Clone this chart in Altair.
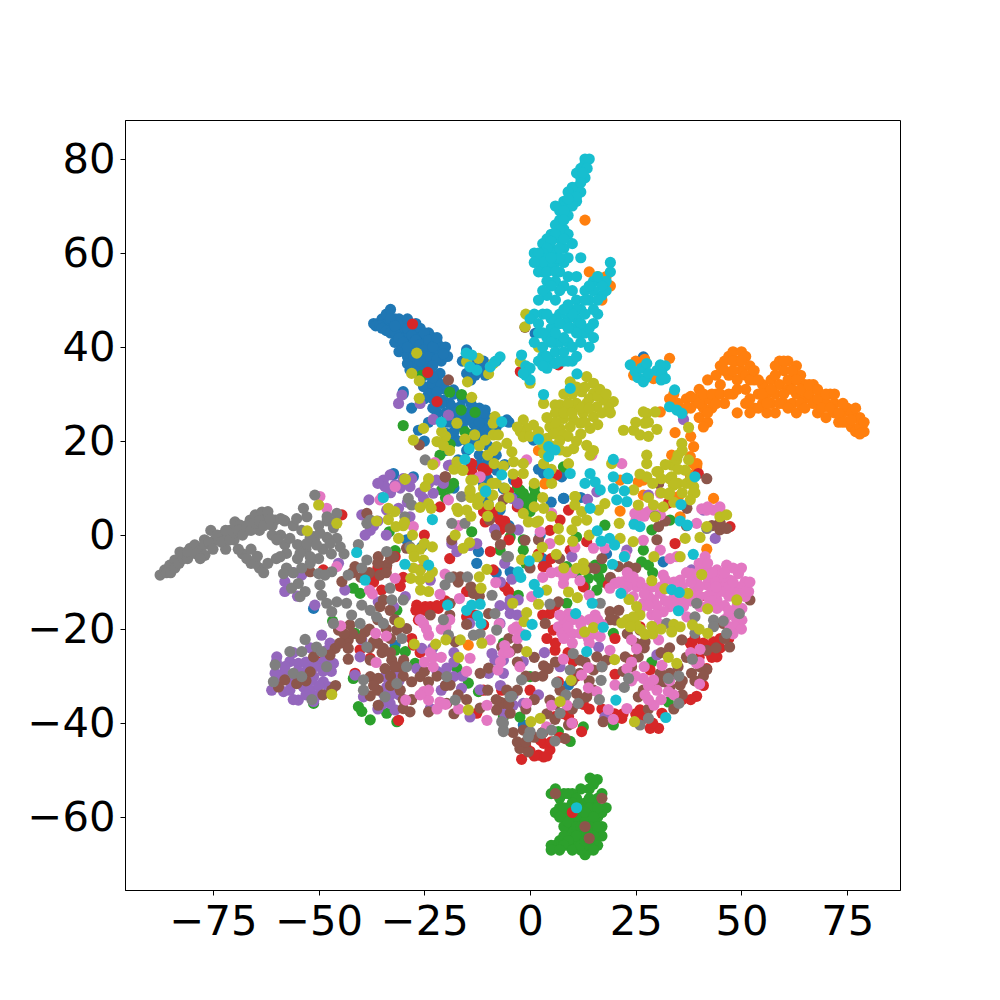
import altair as alt
import pandas as pd

C0 = [(-37,45),(-36,45),(-35,46),(-34,45),(-34,47),(-33,48),(-33,44),(-32,46),(-31,44),(-31,46),(-30,45),(-30,43),(-29,46),(-29,42),(-28,44),(-28,41),(-27,43),(-27,40),(-26,44),(-26,42),(-26,39),(-25,41),(-25,38),(-24,43),(-24,40),(-23,42),(-23,38),(-22,41),(-22,39),(-21,40),(-20,40),(-21,37),(-19.5,38),(-32,41),(-31,39),(-30,40),(-29,38),(-28,37),(-27,36),(-26,35),(-30,42),(-28,39),(-25,36),(-24,35),
(-26,33),(-24,31),(-23,29),(-22,33),(-20,31),(-19,28),(-18,30),(-17,27),(-16,29),(-15,26),(-14,28),(-13,24),(-12,27),(-11,23),(-10,25),(-9,22),(-7,24),(-5,24),(-22,26),(-20,24),(-18,22),(-16,23),(-15,20),(-13,20),(-12,17),(-20,18),(-17,16),(-14,15),(-11,14),(-10,19),(-8,17),(-6,15),(-15,39),(-14,37),(-12,36),(-10,35),(-8,37),(-13,34),(-16,37),(-25,20),(-24,24),(-28,27),(-30,30),(-5,2),(3,-5),(5,7),(12,8),(-8,-8),(-3,8),(2,14),(-18,10),(-10,7),
(8,7.8),(3.2,13.1),(7.5,12.4),(-3.9,11.7),(-6.3,10),(2.4,0),(-4.7,-7.8),(31.5,-5.7),(18.1,-4),(9.1,-31.9),(-1.6,-40.4),(-51.2,-15.6),(-32.3,13.1),(-12.6,-6),(-12.2,-3.5),(-27.6,12.4),(-10.2,15.2),(-7.1,5.3),(-7.9,13.8),(-29.2,-1),(-25.6,-2.5),(-31.9,-23.4),
(-18.1,30.9),(-20.5,28.7),(-18.5,27.3),(-16.5,27.3),(-15,24.5),(-11.8,25.9),(-10.6,26.6),(-13.4,23.8),(-11,22.3),(-5.5,24.5),(-19.7,21.6),(-18.1,20.9),(-23.6,34.8),(-21.3,34.4),(-25.2,31.6),(-23.2,32.3),(-24,36.5),(-10.2,16.7),(-9.4,14.5),(-6.3,9.9),(-28.4,35.1),(-30,30.5),(-26.4,22.3),(7.9,7.8),(.8,20.2),(3.6,13.1),(-15,34.4),(-10.6,34),(-15,39.4),(26.8,37.9),(3,37.2),(1.2,42.9),(-32.3,12.8),
(-36.5,44.5),(-35.5,44.5),(-35,44),(-34,43.5),(-33,43),(-33,46),(-32,43),(-32,44.5),(-31,42),(-30,41),(-29,40),(-29,44),(-28,42.5),(-27,41.5),(-27,45),(-26,40.5),(-25,39.5),(-25,43),(-24,38),(-24,41.5),(-23,40),(-22,37.5),(-22,42),(-20.5,38.5),(-29,36.5),(-27.5,38),(-26,37),(-23,36),(-25,34),(-23,33.5),(-21,32),(-24,30),(-22,30.5),(-25,29),(-23,27),(-21,28),(-20,26),(-19,24),(-18,26),(-17,24),(-17,20),(-16,25),(-14,25),(-13,27),(-12,24),(-11,26),(-9,24),(-8,23),(-11,21),(-13,22),(-15,18),(-12,15),(-10,12),(-11,11),(-12,35),(-13,36.5),(-14,33),(-11,37)]

C1 = [(36,26),(37,29),(38,27),(39,29),(40,25),(40,31),(41,27),(42,33),(42,29),(43,27),(44,34),(44,30),(45,36),(45,32),(46,28),(47,38),(47,34),(48,39),(48,30),(49,37),(49,33),(50,39),(50,35),(51,38),(51,31),(52,36),(52,29),(53,33),(53,27),(54,30),(55,28),(55,32),(56,26),(56,30),(57,33),(57,28),(58,36),(58,30),(58,26),(59,37),(59,32),(60,28),(60,35),(61,37),(61,31),(62,33),(62,28),(63,36),(63,30),(63,26),(64,34),(65,29),(65,32),(66,30),(67,28),(67,32),(68,26),(69,29),(70,25),(70,28),(71,30),(72,28),(72,26),(73,24),(74,26),(75,27),(75,24),(76,23),(77,25),(77,22),(78,23),(79,22),(78,25),(76,26),(35,28),(34,30),(33,29),(13,67),(14,56),(18,55),(19,53),(17,50),(25,37),(42,24),(41,23),(38,21),
(33,37.6),(27.1,37.4),(24.5,34),(29.2,33.3),(34.3,21.8),(30.8,26.2),(2,18),(3.6,11),(33.5,17),(38.7,18.8),(37.9,16.7),(26.8,11.7),(21.3,11.7),(39.5,15.2),
(3.5,10.9),(43.4,7.8),(21.3,5.1),(25.6,11.3),(26.8,8.5),(37.9,12.8),(35.1,8.2),(35.5,3.9),(41.8,-3),(39.4,14.5),(38.6,15.2),(-11,-19.1),(-14.6,-23.4),
(37,27),(38,29.5),(40,28),(41,30),(42,26),(43,30),(44,28),(45,30),(46,35),(46,37),(47,30),(48,35),(48,37),(49,31),(50,37),(51,34),(52,33),(53,35),(54,27),(54,33),(55,30),(56,28),(57,31),(58,34),(59,28),(60,30),(60,37),(61,33),(61,27),(62,35),(62,31),(63,33),(64,28),(64,31),(65,27),(66,32),(68,29),(68,31),(69,27),(70,30),(71,27),(72,30),(73,26),(74,28),(74,24),(76,24.5),(77,27),(78,21.5),(79,24),(51,28),(52,26),(49,26)]

C2 = [(14.2,-51.7),(15.9,-52),(15,-53),(14,-54),(12,-54),(10,-55),(6,-54),(7,-56),(8,-55),(5,-55),(16,-56),(17,-55),(15,-57),(13,-57),(11,-58),(9,-58),(7,-58),(6,-59),(8,-60),(10,-61),(12,-60),(14,-60),(16,-60),(17,-59),(18,-58),(17,-62),(15,-62),(13,-63),(11,-63),(9,-63),(8,-62),(10,-65),(12,-65),(14,-65),(16,-64),(16,-66),(14,-67),(13,-68),(11,-66),(9,-66),(7,-65),(6,-66),(5,-66),(5,-67),(13,-66),(15,-65),(12,-67),(17,-64),(11,-60),(13,-61),(15,-58),(8,-64),(10,-59),(14,-56),
(9,-55),(11,-56),(12,-58),(14,-58),(16,-58),(10,-57),(8,-58),(7,-60),(9,-61),(11,-62),(13,-59),(15,-60),(12,-62),(14,-62),(16,-62),(15,-64),(13,-64),(11,-64),(9,-65),(8,-66),(10,-67),(12,-66),(14,-66),(15,-67),(7,-67),(13,-65),
(-1,8),(-2.4,9.6),(1.2,8.7),(-.8,6.7),(-1.6,8.9),(.4,7.5),(-1.6,-1),(-1.6,-3.2),(-4.7,-.4),(11,-.4),(17.7,2.1),(33.1,3.2),(28.8,1.1),(26.8,-3.2),(26.4,-5.7),(28,-6.4),(16.2,-8.9),(15.4,-6.4),(13.8,-9.2),(15.8,-11.7),(8.7,-14.5),(8.7,-6.7),(19.7,-20.9),(28.8,-27),(32.7,-35.5),(19.7,-40.4),(9.5,-43.9),(12.6,-40.8),(6.7,-41.8),(0,-30.1),(-2.4,-38.7),(-6.3,-38.7),(-2.8,-12.8),
(-18.1,11),(-20.9,9.6),(-33.3,.7),(-13.8,.7),(-7.1,-3.2),(-31.9,-3.3),(-41.8,-11.3),(-40.2,-12.4),(-31.5,-16),(-46.7,-18.3),(-41.4,-20.9),(-31.9,-24.5),(-29.5,-24.8),(-27.2,-27.3),(-41.8,-30.5),(-40.6,-36.5),(-39.8,-37.5),(-37.8,-39.3),(-33.9,-37.9),(-31.5,-39.7),(-17.3,-28.3),(-14.6,-31.5),(-12.2,-33.3),(-6.3,-23),(-51.2,-35.8),
(-30,23.3),(-19,30.4),(-16.2,29.9),(-16.3,26.6),(-13,26.1),(-18.9,19.3),(-15.4,22),(-25.6,34),(-21.3,17),(7.9,14.5),
(-1,-6),(11,-8),(13,-11),(17,-10),(17,-7),(29,-8),(-20,8),(-19,10),(-3,10),(-3,7),(0,5),(1,10)]

C3 = [(-3.2,11.3),(-5.1,9.2),(-7.1,1.1),(9.1,5.3),(7.1,3.2),(4.7,1),(13.4,-1.4),(3.9,-6.7),(18.5,-10.6),(20.1,-22),(32.7,6.8),(47.3,1.8),(40.2,-13.1),(34.3,-1.8),(44.2,-25.9),(43.4,-22.7),(45,-24),(42.2,-24.8),(37.9,-23),(39.4,-34.3),(41.8,-28.4),(28.4,-28.7),(23.7,-26.6),(20.1,-29.6),(26,-37.2),(21.7,-39),(28.4,-41.1),(30.4,-41.1),(12.6,-36),(12.2,-41.8),(9.1,-38.6),(3.2,-44.3),(4.7,-45.7),(2,-46.8),(3.2,-47.2),(-2,-47.7),(2.4,-43.6),(5.9,-38.6),(0,-33),(-6.7,-33),(6.7,-31.2),(10.2,-26.9),(5.9,-24.5),(4.7,-16.7),(5.5,-20.2),(-5.1,-12),(3.1,-6.7),(9.5,-3.2),(26,-19.5),(12.6,-11),(38.3,-23.4),(31.2,-37.9),
(-21.3,6),(-10.2,13.8),(-10.6,2.8),(-7.1,3.2),(-8.7,3.9),(-5.5,1.8),(-9.4,-3.5),(-24.8,-15.2),(-23.6,-15.2),(-21.7,-15.6),(-26.8,-14.9),(-26.4,-18.1),(-30.7,-10.9),(-35.1,-11.7),(-35.9,-8.5),(-31.9,-4.6),(-40.2,-24.4),(-41.4,-29.4),(-31.1,-39.4),(-44.5,4.3),(-27.6,-23.4),(-11,-19.1),(-15,-17.4),(-11,-33),(-12.6,-37.9),(-49.7,-27),(-48.9,-7.4),(-37.8,-26.2),(-8.7,-7.4),(-26,-7.4),
(-27.8,44.9),(-24.2,34.6),(-22,28.4),(-13.8,15.2),(-11.2,14.2),(-3.1,11.2),(6.7,36.2),(-2.3,34.8),(6.3,12.8),(39.8,13.1),(-13.8,13.5),(10,-59),
(0,-46),(1,-47),(4,-47),(5,-44),(7,-43),(3,-42),(-1,-45),(43,-24),(45,-22),(47,-22),(43,-26),(41,-23),(39,-22),(40,-26),(38,-35),(36,-35),(41,-32),(27,-39),(25,-38),(29,-40),(22,-38),(20,-38),(17,-37),(14,-37),(10,-40),(8,-38),(11,-30),(9,-25),(6,-23),(4,-22),(3,-17),(6,-15),(2,-4),(5,-5),(-6,3),(-8,1),(-9,5),(-11,5),(-5,-1),(-3,6),(-22,-15),(-25,-16),(-27,-16),(-20,-14),(-19,-5),(-15,-12),(-13,-17),(-6,-11),(-30,-9),(-36,-7),(-34,-7),(-37,-10),(-28,-22),(-26,-25),(-25,0)]

C4 = [(-49.3,-21.3),(-52,-24),(-47.3,-23),(-52.8,-27.3),(-59.9,-25.9),(-56.8,-26.9),(-54.8,-27.3),(-50,-27.3),(-46.5,-27.3),(-58.3,-29.4),(-53.6,-32.3),(-52,-33),(-56.8,-33),(-54.8,-35.1),(-51.2,-35.4),(-48.9,-31.2),(-47.7,-32.3),(-61.1,-33),(-58.3,-33.3),(-51.2,-30.1),(-48.5,-26.6),(-60.3,-29.4),(-55,-30),(-57,-31),(-50,-32),(-53,-29),
(-34.7,11.7),(-34.3,10.3),(-33.1,12.8),(-30.7,10),(-28.4,10.3),(-31.1,5.7),(-39.8,4.3),(-37.8,1),(-38.1,7.5),(-28.4,3.9),(-22.1,11.7),(-20.5,11),(-18.9,14.9),(-22.9,8.9),(-25.2,7.8),(-33.9,5.3),(-31.9,10.7),(-32.3,-15.2),(-29.5,-13.1),(-35.9,-14.2),(-43.8,-11.7),(-50.9,-14.9),(-45.3,-6),(-54,-8.5),(-58,-9.9),(-57,-11.3),(-33.9,-32.3),(-33.1,-30.1),(-34.3,-30.1),(-32.3,-33),(-33.1,-35.8),(-31.9,-37.2),(-34.7,-33.7),(-39.4,-34.4),(-39.8,-22.3),(-41.4,-29.8),(-40.2,-25.9),(-26.8,-28.4),(-22.9,-25.9),(-23.6,-36.9),(-21.3,-29.4),(-19.7,-28.3),(-18.1,-30.1),(-16.2,-32.6),(-11.8,-32.9),(-9,-25.2),(-8.3,-26.6),(-9.8,-29.4),(-6.3,-29.4),(-6.3,-37.2),(-14.2,-38.7),(-18.5,-1.8),(-17.3,-3.5),(-12.6,-1.8),(-14.2,-2.2),(-8.4,1.2),(-7.1,-15),(-14.3,-18.8),(-23.6,-9.6),(-25.6,-24.1),
(28,8.5),(13.6,7.6),(15.8,9.2),(-2.8,6.7),(-4.3,7.8),(-2.8,1.1),(9.9,-4.6),(43.8,-.7),(41,5.3),(-4.3,-9.4),(-4.7,-13.8),(-2.8,-13.8),(-7.1,-18.8),(-4.7,-16.7),(3.4,-25),(-1.6,-26.9),(-6.3,-26.6),(7.1,-28),(2,-34),(-1.6,-35.8),(-4,-36.2),(30,-25.5),(16.2,-23.8),(17.7,-38.7),(38.2,-7.4),(22.9,-3.2),
(-31.1,28),(-30.3,29.8),(-22.9,24.6),(-19.3,25.5),(-26,28),(36.3,24.6),(-19.3,14.8),
(-57,-31),(-59,-31),(-55,-29),(-53,-27),(-51,-28),(-49,-29),(-47,-29),(-50,-34),(-53,-34),(-56,-35),(-58,-28),(-60,-27),(-56,-25),(-52,-31),(-48,-24.5),(-33,-34),(-33,-33),(-35,-36),(-31,-34),(-31,-31),(-36,-37),(-32,-29),(-35,8),(-33,9),(-36,11),(-30,12),(-28,12),(-26,9),(-24,11),(-29,7),(-34,0),(-37,2),(-39,0),(-36,3),(-56,-8),(-55,-13),(-58,-12),(-22,-29),(-20,-32),(-21,-33),(-18,-27),(-16,-30),(-18,-25),(-23,-24),(-6,-38),(-4,-34),(-7,-32),(-5,-15),(-3,-17),(-7,-10),(-6,-6)]

C5 = [(44.9,1.1),(44.5,2.2),(46.5,1.4),(41.8,12),(30.4,1.8),(30.4,11),(37.1,5.7),(23.3,-6.7),(20.9,-6.7),(15.4,-7.1),(20.1,-18.1),(27.2,-22.7),(26,-20.2),(35.9,-22.3),(41.8,-24.5),(47.2,-23.8),(52,-13.8),(45.7,-18.8),(40.2,-28),(41.8,-28.6),(38.2,-29.4),(33.1,-29.4),(35.5,-31.9),(33.1,-32.3),(30.8,-29.4),(26.8,-33),(25.6,-34.4),(18.9,-16.3),(6.7,-14.2),(3.6,-18.8),(4.3,-28.4),(1.2,-30.1),(7.1,-33),(4.7,-35.1),(11,-33.7),(13.4,-34.4),(11.8,-29.4),(15,-28.7),(18.1,-26.6),(15.8,-25.9),(11.8,-26.6),(22.5,-25.9),(25.6,-25.9),(31.5,-31.2),(17.3,-39.7),(5.9,-39.2),(9.1,-40.4),(8.3,-43.3),(-2.4,-45.4),(-.4,-46.1),(-1.6,-41.5),(-4.7,-37.9),(-7.1,-35.5),(-5.5,-33),(-1.2,-1.1),(-6.3,7.5),(-4.7,1.4),(3.2,-27.8),(-6.7,-23.8),(-4.7,-24.8),
(-20.1,12.4),(-9.6,3.2),(-23.6,-17),(-35.9,-4.6),(-32.3,-4.6),(-33.9,-6.4),(-35.5,-8.5),(-41.4,-6.7),(-44.5,-9.9),(-52,-7.8),(-34.7,-13.8),(-35.5,-15.2),(-33.1,-16),(-42.6,-19.1),(-39,-20.6),(-31.5,-20.2),(-29.2,-19.9),(-43,-22.3),(-43,-24.1),(-43,-26.4),(-46.1,-24.1),(-47.3,-25.5),(-37,-22.7),(-34.7,-24.1),(-52,-29.1),(-51.2,-25.9),(-58,-30.8),(-55.2,-31.6),(-59.5,-32.3),(-46.9,-33),(-37.8,-26.6),(-37.8,-30.1),(-35.9,-30.5),(-34.3,-28.4),(-32.7,-26.6),(-30.7,-33),(-28,-31.2),(-29.9,-26.6),(-37.8,-34.2),(-35.9,-36.2),(-30,-36.9),(-28.4,-37.6),(-26,-30.1),(-24,-31.2),(-18.9,-31.9),(-24,-37.6),(-19.7,-35.8),(-11.8,-29.4),(-9.8,-28.3),(-11.8,-36.8),(-7.9,-37.2),(-6.3,-35.8),(-13.4,-12.4),(-16.5,-8.9),(-18.5,-1),(-18.1,-8.9),(-9.8,-16.7),(-17.7,-22.7),(-18.9,-14.5),(-29.2,-2.8),(-38.6,4.6),(-45.3,-20.2),
(-19.3,33),(-26.2,19.2),(-20,12.4),(30.4,11),(37.9,11.7),(-1.2,44.2),(17,-56),(13,-62),(6,-55),(14,-64.5),
(-42,-8),(-40,-9),(-38,-8),(-36,-6),(-34,-8),(-33,-5),(-42,-21),(-44,-21),(-45,-23),(-40,-22),(-38,-20),(-36,-18),(-34,-20),(-32,-18),(-33,-22),(-35,-25),(-36,-23),(-38,-24),(-33,-25),(-31,-28),(-33,-30),(-30,-30),(-32,-28),(-36,-33),(-33,-32),(-28,-35),(-30,-35),(-37,-32),(-25,-29),(-22,-30),(-20,-32),(-17,-34),(-18,-38),(-15,-35),(-10,-33),(-8,-35),(-5,-36),(-3,-33),(-1,-37),(1,-35),(-4,-42),(-3,-44),(-1,-44),(1,-43),(3,-42),(4,-38),(6,-36),(8,-35),(10,-37),(12,-35),(14,-31),(15,-33),(17,-28),(13,-27),(10,-31),(6,-27),(3,-30),(1,-26),(-1,-30),(-3,-27),(-5,-22),(-3,-24),(19,-18),(21,-16),(23,-21),(25,-23),(27,-24),(31,-25),(33,-24),(35,-28),(37,-26),(39,-31),(41,-30),(36,-34),(30,-31),(28,-37),(34,-37),(36,-31),(44,-24),(46,-22),(24,-28),(22,-29),(-53,-31),(-49,-34),(-46,-32),(-14,-11),(-12,-13),(-17,-10),(-15,-19),(-20,-20),(-19,-17),(-8,0),(-7,-2),(2,-1),(0,-7),(7,-5),(14,-7),(17,-5),(19,-9),(25,-7),(30,-1),(32,3),(37,2),(43,2),(45,2.5)]

C6 = [(41.8,5.3),(43.4,5.3),(44.9,6),(40.6,5.6),(30.8,8.9),(26.4,4.6),(24.8,4.6),(28,5),(30.8,4.3),(34.7,-4.6),(26.8,-1.1),(30.8,-3.2),(33.1,-5),(39.4,2.5),(41.4,-4.6),(40.2,-7.4),(38.2,-8.2),(42.2,-7.8),(44.2,-7.4),(46.5,-6.4),(45,-8.5),(43.4,-9.9),(45.3,-10.6),(47.3,-9.6),(49.3,-8.2),(50.9,-9.9),(51.7,-12),(49.7,-11),(48.1,-12),(46.1,-12),(50.9,-13.1),(44.2,-13.8),(44.2,-15.6),(41.8,-10.6),(39.4,-9.9),(35.5,-9.6),(50.1,-15.6),(48.9,-18.1),(50.1,-18.1),(47.3,-19.5),(48.5,-19.5),(48.1,-16.7),(40.2,-15.2),(37.1,-17.4),(33.1,-15.2),(31.5,-16.3),(28.8,-17),(29.2,-13.8),(26.8,-14.5),(30.8,-12.4),(27.6,-11.3),(25.2,-11),(24.4,-8.9),(22.1,-9.9),(20.1,-10.3),(18.9,-11.3),(24.4,-13.1),(33.9,-13.5),(36.3,-15.2),(38.6,-12),(30.4,-18.8),(24,-22.3),(30.4,-22.3),(25.2,-24.2),(40.2,-24.3),(39.4,-27.3),(31.2,-27.7),(22.9,-28.4),(26.8,-30.5),(29.2,-30.8),(32.7,-33.3),(27.2,-34),(29.3,-36.2),(22.9,-36.9),(18.5,-37.1),(19.7,-39.2),(40.1,-31.7),(20.1,-31.9),(13.8,-32.5),(15.8,-33.3),(13.8,-28.2),(12.2,-29.8),(18.9,-24.5),(7.9,-26.4),(9.9,-40),(3.9,-40.8),(5.1,-36.2),(8.7,-36.2),(-.8,-35.8),(-2.4,-28),(-6.3,-25.2),(-3.2,-19.5),(6.7,-19.5),(9.1,-16.7),(11.8,-18.1),(7.5,-20.9),(11.8,-20.9),(16.6,-21.6),(13.8,-22),(15.4,-17),(14,-12.8),(11.8,-9.7),(9.1,-8.1),(6.7,-7.8),(7.9,-10.3),(.4,-13.1),(4.7,-1.8),(2.4,.7),(5.1,4.6),(15,-2.8),(10.6,-2.6),(17.7,-2.8),(22.5,-4.3),(31.5,-8.5),
(-49.7,8.2),(-48.1,5.7),(-45.7,-6.7),(-35.5,7.5),(-31.9,10.3),(-27.6,1.8),(-19.3,7.5),(-16.9,2),(-12,12.3),(-31.9,-9.2),(-38,-11.7),(-44.8,-19.3),(-36.5,-20.9),(-34,-21.5),(-36.4,-27.1),(-29.4,-35.1),(-25.2,-18.8),(-24,-21.3),(-23.6,-25),(-22.9,-28),(-25.2,-33.3),(-24,-35.1),(-21.3,-35.5),(-16.9,-37),(-10.2,-39.4),(-10.2,-36.2),(-21.3,-12.6),(-20.1,-8.3),(-16.7,-13.5),(-8.1,-10.1),(-7.3,-18.9),(-9.4,-22.3),(-5.9,-24.8),(-14.2,-26.2),(-15,-29),(-7.6,-28.7),(-19.9,-19.5),(-37.3,-12.5),(-22.5,15.4),
(21.7,15.2),(14.6,17),(-.8,16),(-11.8,12.4),
(42,-9),(43,-8),(44,-10),(46,-9),(47,-11),(48,-10),(49,-13),(47,-13),(45,-12),(43,-12),(42,-13),(40,-11),(38,-10),(37,-8),(36,-11),(34,-10),(32,-9.5),(31,-11),(29,-11),(28,-13),(27,-12.5),(26,-10),(24,-10),(23,-11),(22,-12),(21,-10),(23,-8),(36,-14),(34,-15),(32,-14),(30,-15),(28,-15),(30,-17),(26,-16),(38,-14),(40,-13),(42,-15),(46,-15),(47,-17),(49,-15),(51,-12),(52,-10),(50,-7),(48,-7),(46,-8),(44,-11),(43,-14),(50,-20),(48,-21),(46,-18),(47,-16),(40,-6),(42,-6),(42,6),(45,5),(27,4),(25,3),(29,5),
(8,-18),(10,-18),(12,-19),(14,-18),(10,-21),(13,-21),(15,-21),(17,-19),(8,-22),(10,-23),(14,-23),(16,-18),(9,-19.5),(7,-17),(3,-9),(5,-8),(8,-9),(10,-8),(-4,-20),(-2,-21),(-5,-25),(-7,-27),(-6,-23.5),(-3,-22),(28,-32),(30,-33),(28,-35),(31,-35),(33,-31),(34,-34),(25,-30),(27,-28),(40,-27),(38,-25),(24,-31),(24,-27),(-22,-37),(-24,-33),(-20,-36),(-26,-34),(-23,-26),(-21,-26),(-25,-27),(-19,-18),(-21,-20),(-26,-18),(-24.5,-20)]

C7 = [(-87.5,-8.5),(-86.4,-7.4),(-85.2,-6.4),(-84,-5.3),(-82.8,-3.6),(-80.4,-2.8),(-79.3,-2.1),(-78,-3.2),(-76.9,-4.3),(-74.5,-1),(-72.9,0),(-71,1),(-69.8,2.8),(-68.6,2.1),(-66.2,3.2),(-65,4.3),(-63.4,4.9),(-62,3.6),(-60.3,3.2),(-58,3),(-75.5,1),(-77,-1),(-72,-3),(-70,-1),(-68,-4),(-66,-6),(-64,-7),(-67,1),(-64,1),(-61,0),
(-86,-8),(-85,-8),(-84,-7),(-83,-6),(-82,-5),(-81,-5),(-81,-3.5),(-79,-4),(-78,-5),(-77,-2),(-76,-1.5),(-75,-3),(-74,0),(-73,-1.5),(-72,1),(-71,-1),(-70,.5),(-69,1),(-68,0),(-67,2),(-66,1),(-65,2.5),(-64,3),(-63,2),(-62,5),(-61,2),(-59,3.5),(-69,-3),(-67,-5),(-65,-6),(-64.5,-4.5),(-66,-3),(-63,-8),(-62,-6),
(-56,2),(-54,1),(-52,-.5),(-55,-2),(-53,-3),(-51,-1),(-49,-3),(-48,-.5),(-46.5,1.5),(-47,-4),(-50,-5),(-55,-5),(-52,-6),(-56,-8),(-58,-2),(-60,-5),(-54,-7),(-48,3),(-50,2),(-46,3),(-44,-4),(-59,0),
(-50.9,8.5),(-53.6,5.7),(-45.7,4.6),(-48,3.9),(-55.2,3.5),(-58.3,3.2),(-61.5,3.5),(-52.8,3.9),(-51.2,-.3),(-49.7,.4),(-45.7,-.7),(-56.8,-.7),(-59.9,-1),(-52.8,-1.8),(-50.5,-2.1),(-47.3,-1.8),(-44.9,-2.5),(-54.4,-3.9),(-52,-4.6),(-57.6,-3.9),(-59.1,-4.6),(-40.6,-2),(-38.6,-5.3),(-39.8,-7),(-57.6,-7),(-58.3,-8.2),(-54.8,-10.3),(-56.4,-11.3),(-54.4,-13.1),(-53.2,-12),(-50,-8.2),(-46.9,-7.8),(-43,-8.5),(-48.5,-8.5),(-49.7,-10.6),(-49.3,-12.8),(-48.1,-14.5),(-45.7,-14.2),(-43.4,-14.5),(-46.9,-16.3),(-46.5,-18.8),(-42.2,-17),(-39.8,-14.9),(-40.2,-18.8),(-37.8,-16),(-36.3,-17.4),(-34.7,-18.8),(-33.9,-3.5),(-33.1,-11.3),(-32.7,-13.8),(-30,-13.8),(-30.3,-22),(-38.6,-23.8),(-29.2,-28),(-39.4,-30.8),(-39.4,-33),(-34.3,-34.4),(-31.5,-31.6),(-53.2,-22.2),(-56.8,-24.8),(-54,-24.8),(-50.5,-23.8),(-49.3,-24.8),(-60.3,-27.6),(-56,-29.4),(-54,-30.1),(-48.1,-28),(-51.6,-35),(-60.7,-31.2),(-37.8,3.2),(-38.6,2.5),(-29.6,3.9),(-28,6.4),(-28.8,7.8),(-15.4,2.5),(-18.5,2.5),(-16.2,8.2),(-28.4,-2.5),(-24.8,16),(-20.1,-10.6),(-18.9,-9),(-14.8,-8.9),(-20.5,-18),(-19.3,-21.3),(-13.4,-21.3),(-11.8,-21),(-9,-12.8),(-7.9,-20.2),(-8.3,-16.7),(-5.5,-4.6),(-19.7,-30.1),(-17.7,-35.1),(-6.7,-39.7),(-6.3,-41.5),(-4.7,-34.4),
(-5.1,-4.6),(16.6,-14.5),(39.4,-14.5),(39,-17.4),(43.4,-18.1),(45.7,-18.3),(46.5,-20.9),(43.4,-19.5),(39,-20.9),(49.5,-16.7),(32.3,-18.8),(38.4,-26.4),(32.7,-30.5),(35.2,-30),(35.2,-35.8),(28,-39),(26,-40.4),(23.3,-30.5),(22.3,-32.4),(17,-28),(16.8,-30.9),(16.4,-35),(10.2,-25.2),(9.5,-28.7),(6.3,-31.4),(8.5,-34),(11.4,-35.8),(7.1,-37.9),(5.1,-41.5),(5.9,-43.8),(2.8,-42.2),(0,-41.8),(-.4,-42.9),(-4.3,-34.3),(-2,-30.8),(4.7,-14.7),(41.8,1.4),(29.6,4),(-6.3,-40),(-6.3,-41.8)]

C8 = [(9.5,32.6),(13.4,33.7),(15,32.3),(12.2,30.5),(15,30.1),(17.4,28.7),(19.7,28.4),(18.6,27),(15.8,27.3),(13.4,28),(11,28),(9.5,26.6),(7.1,27.7),(5.9,27.7),(12.6,25.9),(15,25.2),(10.3,24.5),(7.9,24.8),(11.9,23.8),(14.2,22.7),(7.1,22.7),(4.7,23),(4,20.6),(5.5,21.6),(7.9,21.3),(9.5,23),(3.2,28),(.8,23.4),(-.8,22.7),(-2.3,22),(-1.6,20.9),(-1.6,24.5),(13.4,19.1),(14.2,17),(10.3,18.4),(9.1,15.2),(8.7,17.7),(7.1,18.1),(3.2,17.4),(3.2,15.2),(5.1,11),(22.1,22.3),(24.5,22.3),(26,21.3),(27.2,23.8),(27.6,25.9),(26.8,26.2),(29.6,26.2),(30,22.5),(37.5,22.9),(35.9,19.5),(27.6,17),(27.6,15.2),(33.5,14.9),(34.7,16),(37.5,16),(36.7,13.8),(30.4,13.5),(27.6,12.4),(33.5,12.4),(33.9,10.6),(38.7,10.3),(19.3,15.2),(32.8,8.7),(24.5,9.6),
(8,30),(10,30),(11,31.5),(13,31.5),(14,29),(16,29.5),(16.5,31),(18,30),(9,28),(12,27),(14,27),(17,26),(19,26),(6,26),(8,26),(10,26),(13,24),(16,23.5),(6,24),(9,21),(12,21.5),(5,19),(7,20),(3,19.5),(11,20),(15,18),(4,25),(2,22),(0,21),(-3,23),(28,24),(25,24),(28,21),
(33,12),(35,11),(37,11),(36,9),(35,14),(32,15),(31,12),(29,11),(26,13),(38,12),(39,9),(35,17),(36,18),(33,9),(34,7),(31,9),(28,8),
(-30,2),(-32,5),(-26,-3),(-28,-3),(-26,-7.5),(-24,-9),(-26,-9.5),(-24,-12),(-17,5),(-14,4),(-12,8),(-10,4),(-14,8),(-8,11),(-6,10),(-23,15),(-4,13),(-10,17),(-12,19),(-19,18),(-20,21),(-18,14),(-11,10),(-7,6),(-5,8),(2,3),(1,6),(5,4),(7,-1),(11,3),(14,0),(8,-7),(26,-20),(26,-17),(23,-18),(25,-19),(29,-21),(31,-20),(34,-19),(40,-20),(3,8),(1,11),(5,14),
(-26.8,38.7),(-28,34.4),(-26.2,32.8),(-26.2,29.1),(-14.8,32.6),(-15,36.9),(-12.2,37.6),(-9.8,34.3),(-8.7,36.5),(-13.8,29.3),(-8.3,25.2),(-8.7,23.8),(-17.3,23.8),(-25.2,22.7),(-20.9,22),(-27.6,20.2),(-22,19.9),(-20.5,19.1),(-15.4,20.4),(-13.1,21.3),(-10.6,20.2),(-8.7,21.3),(-7.5,21.3),(-7.9,18.8),(-5.5,19.5),(-8.7,18),(-4.3,17.7),(-17.3,15.6),(-8.5,15.2),(-6.3,14.7),(-3.9,15.6),(-1.6,15.2),(-1.6,13.1),(-15.9,13.8),(-29.5,11.9),(-24,12),(-14,11.7),(-8.7,11),(-14.2,9.2),(-9,8.5),(10.7,8.2),(-1.2,44.3),(-2.3,36.9),(0,32.3),
(-29.6,11.9),(-24.8,10.3),(-50,6.4),(-45.7,2.5),(-52.7,.9),(-36.3,3),(-33.5,5.7),(-33.5,3.3),(-31.7,1.8),(-29.7,2.7),(-31.1,-.7),(-27.8,0),(-26,5.9),(-24,6.7),(-23.4,5.7),(-25,-1.8),(-23.1,-2.5),(-27.4,-4.6),(-25.2,-5.3),(-27.6,-7),(-28.2,-9.2),(-23.1,-7.8),(-25.9,-11.7),(-30.9,-18.6),(-27.4,-23.2),(-22.3,-23.2),(-19.9,-22.3),(-16.5,-22.3),(-16.9,-26),(-11.4,-23),(-10.2,-7.3),(-12,-8.9),(-11.6,-11.3),(-17.7,0),(-14.3,-1.6),(-15.8,-2.8),(-14.2,9.6),(-13.4,11.7),(-15.9,13.8),(-17.3,5.7),(-15,5.3),(-12.4,6.5),(-9.8,6.4),(-9,11),(-8.8,8.5),(-46.9,-33.9),(-14.6,-37.2),
(3.2,5.7),(-1.6,4.6),(-.4,2.8),(1.4,2.7),(6.7,1.4),(9.9,1.1),(10.6,8.2),(10.6,6.4),(12.2,5),(13.4,3.2),(17.7,6.7),(16.2,5.3),(10.1,-1.3),(2.9,-2.6),(1.7,-4.6),(-2,-5.2),(6.2,-4.1),(12.6,-6),(11,-7.1),(12.8,-7.4),(24.4,-1.4),(21.1,2.5),(21.3,-.7),(25.6,6.4),(29.2,6.4),(31.5,6),(29.6,3.9),(32.7,8.7),(30,13.5),(34.3,11),(38.6,8.9),(37.9,7.5),(44.9,3.9),(46.5,4.3),(41.8,1.8),(40.2,-.5),(36.7,-.7),(35.5,-4.6),(29.3,-4.6),(40.6,-8.4),(28.8,-9.7),(23.4,-13.7),(31.9,-11.4),(37.3,-12.4),(42,-15.7),(48.9,-13.8),(38.4,-19.1),(42,-20.9),(35.5,-19.5),(33.5,-20.6),(28.8,-19.4),(27.2,-21.1),(24.4,-17.4),(25.2,-15.2),(21.7,-18.7),(23.7,-19.5),(32.7,-26),(34.7,-27.3),(20,-26.5),(12.9,-20.6),(15,-19.7),(11.2,-13.3),(9.1,-12.1),(3.9,-11.7),(2,-14.7),(-4.1,-14.5),(-.8,-16.5),(-1.4,-18.4),(-.8,-24.8),(9.7,-30.9),(7.1,-35.4),(2.4,-39),(.2,-39.7),(24.7,-39.7),(16,55),(2,40),(-1,47)]

C9 = [(13,80),(13,79),(12,78),(14,80),(12,76),(11,77),(13,76),(11,74),(12,73),(10,74),(10,72),(9,73),(11,71),(9,70),(8,71),(7,69),(6,70),(9,68),(7,67),(8,65),(6,66),(9,64),(5,64),(7,63),(4,63),(8,61),(5,61),(3,62),(6,60),(4,59),(2,58),(6,58),(8,58),(1,60),(5,57),(3,56),(9,59),(10,62),(7,56),(9,55),(11,55),(12,59),
(13.5,78),(12.5,77),(12,75),(11,72),(10,70),(9,71.5),(8,69),(8,67),(7,65),(6,64),(5,62.5),(4,61),(3,60),(2,60),(3,58),(1,58),(2,56),(4,56),(6,56),(7,59),(8,63),(7,61),(5,59),(4,54),(6,54),(8,53),(10,52),(11,50),(12,48),(11,46),(9,46),(10,44),(8,45),(7,47),(6,46),(5,44),(4,42),(2,43),(3,47),(6,41),(8,37),(5,37),(7,41),(9,41),(10,37),(12,43),(13,43),(15,45),(16,47),(14,50),(17,51),(18,52),(13,52),(15,54),(11,48),(3,38),(6,36.5),(4,35.5),(25.5,33.5),(27.5,33.5),(30,35),(32,36),(31,33),
(19,58),(19,56),(18,54),(17,53),(16,55),(15,52),(14,53),(13,50),(16,50),(15,48),(13,47),(14,44),(12,45),(11,43),(12,41),(10,47),(9,49),(8,48),(7,52),(6,50),(5,53),(4,51),(3,52),(2,50),(1,47),(0,46),(2,45),(3,43),(5,46),(4,47),(7,45),(8,42),(9,44),(6,43),(5,41),(3,40),(4,38),(6,39),(7,37),(8,39),(9,37),(10,40),(11,38),(2,37),(1,41),(3,36),(-1,36),(-1,34),(0,33),(15,42),(14,40),
(23.7,36.2),(24.9,34.8),(26.8,32.6),(26.4,35.5),(27.6,36.5),(28,34.4),(30.8,36.2),(31.2,34.4),(32,33.3),(34.2,30.9),(33,27.3),(34.7,26.6),(35.9,25.9),
(-15.1,38.7),(-13.8,38.3),(-14.2,35.8),(-12.6,35.1),(-9.4,35.8),(-8.3,36.9),(-7.1,37.9),(-21,24),(-6.7,24.1),(-14.4,18.4),(-15.4,16.1),(-6.7,12.8),(-10.5,9.4),(3.2,29.9),(9.5,31.2),(11.1,34.3),(-2,38.3),(0,35.5),(-1.6,34.4),(2,20.4),(4.4,18.8),(4.4,16.7),(5.9,18.1),(4.4,13.1),(9.5,13.1),(14.2,13.1),(13,11),(15.4,11.3),(16.6,9.6),(19.7,16.1),(19.7,12.4),(22.9,12.1),(19.7,9.9),(22.3,9.4),
(23.1,12),(20.5,7.5),(22.9,7.1),(14.2,5.7),(24.6,2.3),(26,1.8),(35.7,6.5),(39,12.4),(35.5,3),(37.2,2.1),(15.9,.9),(16.8,-1.3),(18.8,-.7),(20,-2.1),(-.2,-5.5),(-2.8,-7.8),(-2.2,-9),(1,-10.5),(2,-12.2),(22.3,-4.6),(19.5,-6.2),(21.5,-12.4),(33.5,-11.6),(35.3,-12.2),(35.1,-16.1),(38.6,-4.1),(14.7,-14.5),(10.8,-16.7),(17.3,-19.6),(.5,-19),(-1,-21.3),(13.4,-24.8),(20.3,-35.1),(32.1,-38.8),
(-34.7,8),(-23.1,3.3),(-41,-3.7),(-29.6,-6.2),(-24,-6.4),(-39,-9.6),(-19.5,-14.9),(-15,-16),(-13.8,-14.9),(-11.8,-14.7),(-12.4,-17.2),(-11.6,-18.8),(-10.5,9.2),(11,-58)]

SERIES = [C0, C1, C2, C3, C4, C5, C6, C7, C8, C9]
COLORS = ["#1f77b4", "#ff7f0e", "#2ca02c", "#d62728", "#9467bd",
          "#8c564b", "#e377c2", "#7f7f7f", "#bcbd22", "#17becf"]
X_TICKS = [-75, -50, -25, 0, 25, 50, 75]
Y_TICKS = [-60, -40, -20, 0, 20, 40, 60, 80]

rows = []
for k, pts in enumerate(SERIES):
    for p in pts:
        rows.append({"x": p[0], "y": p[1], "k": str(k), "o": k})
df = pd.DataFrame(rows)


def axis(vals, pad):
    return alt.Axis(values=vals, title=None, grid=False, labelFont="DejaVu Sans",
                    labelFontSize=41.7, labelColor="black", tickColor="black",
                    domainColor="black", tickSize=5, tickWidth=1, domainWidth=1,
                    labelPadding=pad, labelFlush=False, labelOverlap=False)


chart = (
    alt.Chart(df)
    .mark_circle(size=125, opacity=1)
    .encode(
        x=alt.X("x:Q", scale=alt.Scale(domain=[-95.8, 87.5], nice=False, zero=False), axis=axis(X_TICKS, 6)),
        y=alt.Y("y:Q", scale=alt.Scale(domain=[-75.5, 88.3], nice=False, zero=False), axis=axis(Y_TICKS, 5)),
        color=alt.Color("k:N", scale=alt.Scale(domain=[str(i) for i in range(10)], range=COLORS), legend=None),
        order=alt.Order("o:Q"),
    )
    .properties(width=775, height=770, autosize="none",
                padding={"left": 117, "top": 112, "right": 90, "bottom": 100},
                background="white")
    .configure_view(stroke="black", strokeWidth=1)
)
chart.save("out.html", embed_options={"renderer": "svg", "actions": False})
